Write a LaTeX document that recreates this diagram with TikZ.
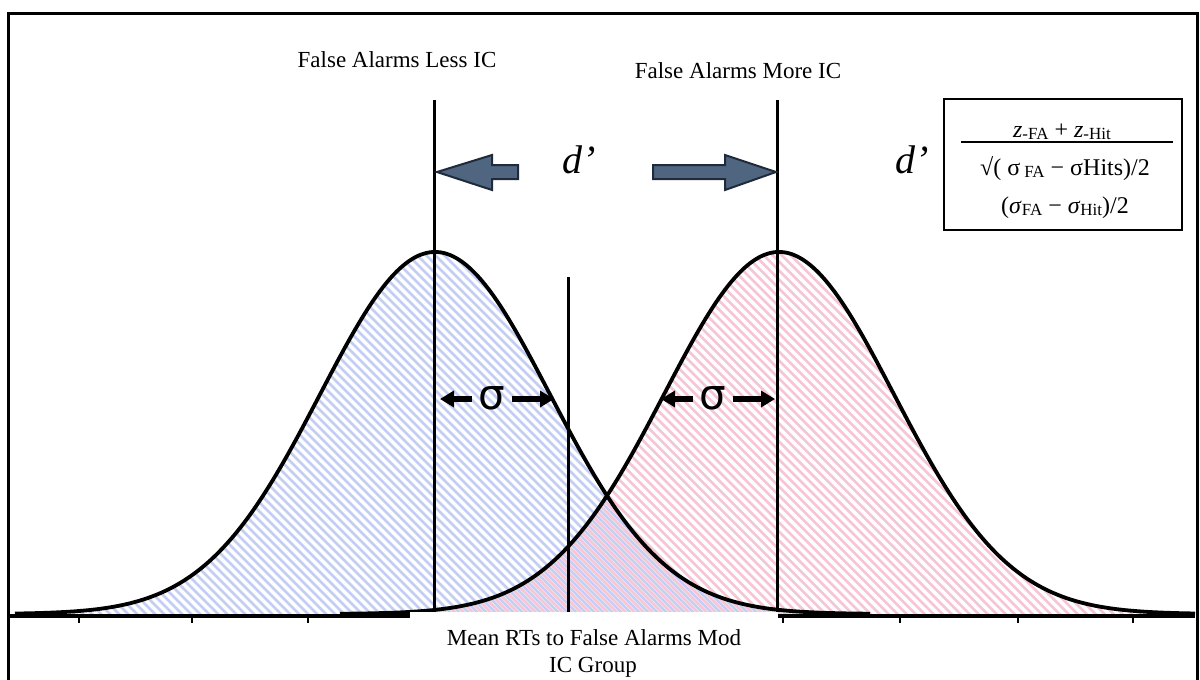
\documentclass[tikz,border=0pt]{standalone}
\usepackage{fontspec}
\setmainfont{Liberation Serif}
\newfontfamily\sigfont{DejaVu Sans}
\usetikzlibrary{arrows.meta}
\definecolor{hblue}{HTML}{C4CDF3}
\definecolor{hpink}{HTML}{F6C6D5}
\definecolor{arrfill}{HTML}{4F6580}
\definecolor{arrdraw}{HTML}{1F2B3A}
\newcommand{\lowsub}[1]{\raisebox{-0.25ex}{\fontsize{8.5}{10}\selectfont #1}}
\begin{document}
\begin{tikzpicture}[x=0.5pt,y=-0.5pt,
  curve/.style={line width=1.9pt,black},
  vline/.style={line width=1.5pt,black},
  lbl/.style={font=\fontsize{11.5}{13.5}\selectfont,inner sep=0pt},
  dtext/.style={font=\fontsize{20}{24}\selectfont\itshape,inner sep=0pt},
  sig/.style={font=\sigfont\fontsize{21}{24}\selectfont,inner sep=0pt},
  sigarr/.style={line width=3pt,-{Triangle[length=7pt,width=8pt]}},
  blockarr/.style={fill=arrfill,draw=arrdraw,line width=1pt,line join=miter},
  fml/.style={font=\fontsize{12}{14}\selectfont,inner sep=0pt,anchor=base},
  tick/.style={line width=0.8pt}]
\useasboundingbox (0,0) rectangle (1200,680);
% outer frame
\draw[line width=1.5pt] (8,682) -- (8,13) -- (1197,13) -- (1197,682);
% blue hatch
\begin{scope}
\clip (15,616) -- plot[domain=15:870,samples=120,smooth] (\x,{614-362*exp(-0.5*((\x-435)/115)^2)}) -- (870,616) -- cycle;
\foreach \i in {-60,...,110} \draw[hblue,line width=1.4pt] ({\i*9-400},230) -- ++(400,400);
\end{scope}
% pink hatch
\begin{scope}
\clip (340,616) -- plot[domain=340:1195,samples=120,smooth] (\x,{614-362*exp(-0.5*((\x-779)/115)^2)}) -- (1195,616) -- cycle;
\foreach \i in {-20,...,150} \draw[hpink,line width=1.4pt] ({\i*9-395.5},230) -- ++(400,400);
\end{scope}
% baseline and ticks
\draw[line width=1.6pt] (10,616) -- (1195,616);
\foreach \t in {79,192,308,783,900,1018,1133} \draw[tick] (\t,616) -- (\t,623);
% bell curves
\draw[curve] plot[domain=15:870,samples=160,smooth] (\x,{614-362*exp(-0.5*((\x-435)/115)^2)});
\draw[curve] plot[domain=340:1195,samples=160,smooth] (\x,{614-362*exp(-0.5*((\x-779)/115)^2)});
% white label area
\fill[white] (410,612) rectangle (778,682);
% vertical lines
\coordinate (lt) at (434,100); \coordinate (lb) at (434,612);
\coordinate (rt) at (777,100); \coordinate (rb) at (777,612);
\coordinate (mt) at (568,277); \coordinate (mb) at (568,612);
\draw[vline] (lt) -- (lb);
\draw[vline] (rt) -- (rb);
\draw[vline] (mt) -- (mb);
% top labels
\node[lbl] (fal) at (397,60) {False Alarms Less IC};
\node[lbl] (fam) at (738,71) {False Alarms More IC};
% d' labels
\node[dtext,anchor=base] (d1) at (579,173) {d’};
\node[dtext,anchor=base] (d2) at (912,173) {d’};
% block arrows
\filldraw[blockarr] (437,172) -- (492,155) -- (492,165) -- (518,165) -- (518,179) -- (492,179) -- (492,190) -- cycle;
\filldraw[blockarr] (776,172) -- (725,155) -- (725,165) -- (653,165) -- (653,179) -- (725,179) -- (725,190) -- cycle;
% sigma arrows
\node[sig] (s1) at (492,398) {σ};
\node[sig] (s2) at (713,398) {σ};
\coordinate (s1l) at (440,399); \coordinate (s1r) at (554,399);
\coordinate (s2l) at (661,399); \coordinate (s2r) at (775,399);
\draw[sigarr] ([xshift=-3pt]s1.west |- s1l) -- (s1l);
\draw[sigarr] ([xshift=3pt]s1.east |- s1r) -- (s1r);
\draw[sigarr] ([xshift=-3pt]s2.west |- s2l) -- (s2l);
\draw[sigarr] ([xshift=3pt]s2.east |- s2r) -- (s2r);
% formula box
\node[draw,line width=1.2pt,minimum width=119pt,minimum height=65.5pt,inner sep=0pt] (box) at (1063,164.5) {};
\node[fml] (f1) at (1062,137) {\textit{z}\lowsub{-FA} + \textit{z}\lowsub{-Hit}};
\draw[line width=1pt] ([xshift=-51pt]box.center |- 0,142) coordinate (fl) -- ([xshift=55pt]box.center |- 0,142) coordinate (fr);
\node[fml] (f2) at (1065,175) {√( σ\,\lowsub{FA} − σHits)/2};
\node[fml] (f3) at (1065,213) {(\textit{σ}\lowsub{FA} − \textit{σ}\lowsub{Hit})/2};
% bottom label
\node[lbl,anchor=base] (bl1) at (594,645) {Mean RTs to False Alarms Mod};
\node[lbl,anchor=base] (bl2) at (593,672) {IC Group};
\end{tikzpicture}
\end{document}
